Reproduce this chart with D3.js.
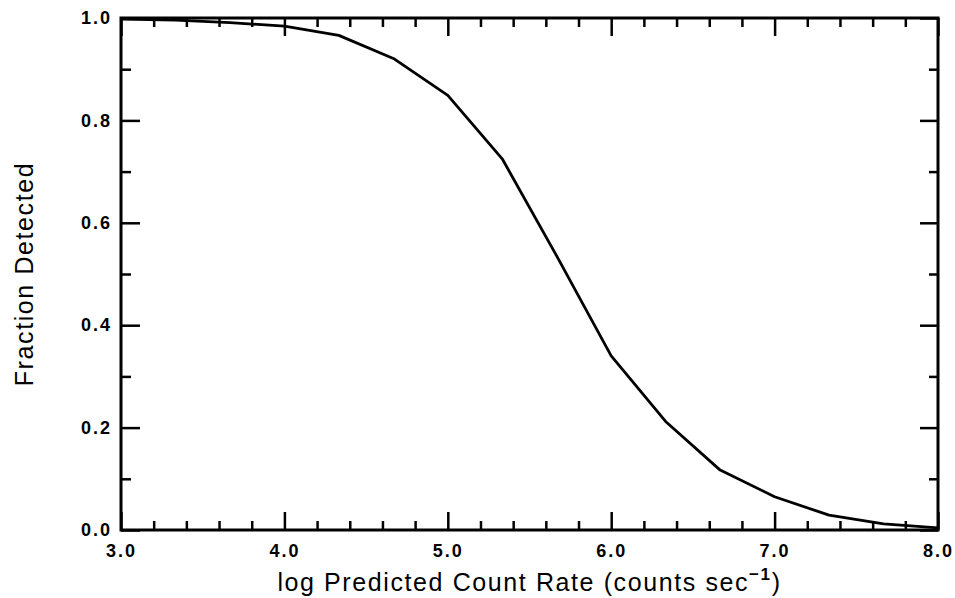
<!DOCTYPE html>
<html>
<head>
<meta charset="utf-8">
<script src="https://cdn.jsdelivr.net/npm/d3@7"></script>
<style>
  body { margin: 0; background: #fff; }
  #here { width: 955px; height: 598px; }
  .tickLabel { font-family: "Liberation Sans", Arial, sans-serif; font-weight: bold; font-size: 18px; letter-spacing: 2px; fill: #000; }
  .axisLabel { font-family: "Liberation Sans", Arial, sans-serif; font-size: 25px; letter-spacing: 1.6px; fill: #000; }
</style>
</head>
<body>
<div id="here"></div>
<script>
// Data
const logRate = [3.0, 3.333, 3.667, 4.0, 4.333, 4.667, 5.0, 5.333, 5.667, 6.0, 6.333, 6.667, 7.0, 7.333, 7.667, 8.0];
const fraction = [0.998, 0.996, 0.991, 0.984, 0.966, 0.921, 0.849, 0.725, 0.535, 0.340, 0.212, 0.117, 0.065, 0.029, 0.012, 0.004];

const xMajorTicks = [3, 4, 5, 6, 7, 8];
const xMinorTicks = [3.2, 3.4, 3.6, 3.8, 4.2, 4.4, 4.6, 4.8, 5.2, 5.4, 5.6, 5.8, 6.2, 6.4, 6.6, 6.8, 7.2, 7.4, 7.6, 7.8];
const yMajorTicks = [0, 0.2, 0.4, 0.6, 0.8, 1.0];
const yMinorTicks = [0.1, 0.3, 0.5, 0.7, 0.9];

const data = logRate.map(function(d, i){
    return { x: d, y: fraction[i] };
});

const width = 955;
const height = 598;
const margin = { top: 18, right: 17, bottom: 68, left: 121 };

const svg = d3
    .select("#here")
    .append("svg")
    .attr("width", width)
    .attr("height", height);

// scales
const xScale = d3
    .scaleLinear()
    .domain([3, 8])
    .range([margin.left, width - margin.right]);

const yScale = d3
    .scaleLinear()
    .domain([0, 1])
    .range([height - margin.bottom, margin.top]);

const fmt = d3.format(".1f");

// helper to draw one set of inward ticks
function drawAxis(axisFn, scale, ticks, size, transform, labels, pad) {
    const g = svg
        .append("g")
        .attr("transform", transform)
        .call(axisFn(scale)
            .tickValues(ticks)
            .tickSize(-size)
            .tickPadding(labels ? pad : 0)
            .tickFormat(labels ? fmt : ""));
    g.select(".domain").remove();
    g.selectAll(".tick line").attr("stroke", "#000").attr("stroke-width", 2.5);
    g.selectAll(".tick text").attr("class", "tickLabel").attr("font-size", null).attr("font-family", null);
    return g;
}

const bottomY = height - margin.bottom;
const rightX = width - margin.right;

drawAxis(d3.axisBottom, xScale, xMajorTicks, 18, `translate(0, ${bottomY})`, true, 14);
drawAxis(d3.axisBottom, xScale, xMinorTicks, 9, `translate(0, ${bottomY})`, false);
drawAxis(d3.axisTop, xScale, xMajorTicks, 18, `translate(0, ${margin.top})`, false);
drawAxis(d3.axisTop, xScale, xMinorTicks, 9, `translate(0, ${margin.top})`, false);
drawAxis(d3.axisLeft, yScale, yMajorTicks, 19, `translate(${margin.left}, 0)`, true, 9);
drawAxis(d3.axisLeft, yScale, yMinorTicks, 10, `translate(${margin.left}, 0)`, false);
drawAxis(d3.axisRight, yScale, yMajorTicks, 18, `translate(${rightX}, 0)`, false);
drawAxis(d3.axisRight, yScale, yMinorTicks, 9, `translate(${rightX}, 0)`, false);

// frame
svg.append("rect")
    .attr("x", margin.left)
    .attr("y", margin.top)
    .attr("width", rightX - margin.left)
    .attr("height", bottomY - margin.top)
    .attr("fill", "none")
    .attr("stroke", "#000")
    .attr("stroke-width", 3);

// curve
const line = d3.line()
    .x(function(d){ return xScale(d.x); })
    .y(function(d){ return yScale(d.y); });

svg.append("path")
    .datum(data)
    .attr("d", line)
    .attr("fill", "none")
    .attr("stroke", "#000")
    .attr("stroke-width", 2.8)
    .attr("stroke-linejoin", "round");

// axis labels
const xAxisLabel = svg
    .append("text")
    .attr("class", "axisLabel")
    .attr("x", (margin.left + rightX) / 2)
    .attr("y", 591)
    .attr("text-anchor", "middle");
xAxisLabel.append("tspan").text("log Predicted Count Rate (counts sec");
xAxisLabel.append("tspan").attr("dy", -11).attr("font-size", 17).attr("font-weight", "bold").text("−1");
xAxisLabel.append("tspan").attr("dy", 11).text(")");

svg.append("text")
    .attr("class", "axisLabel")
    .attr("x", -(margin.top + bottomY) / 2)
    .attr("y", 33)
    .attr("transform", "rotate(-90)")
    .attr("text-anchor", "middle")
    .text("Fraction Detected");
</script>
</body>
</html>
